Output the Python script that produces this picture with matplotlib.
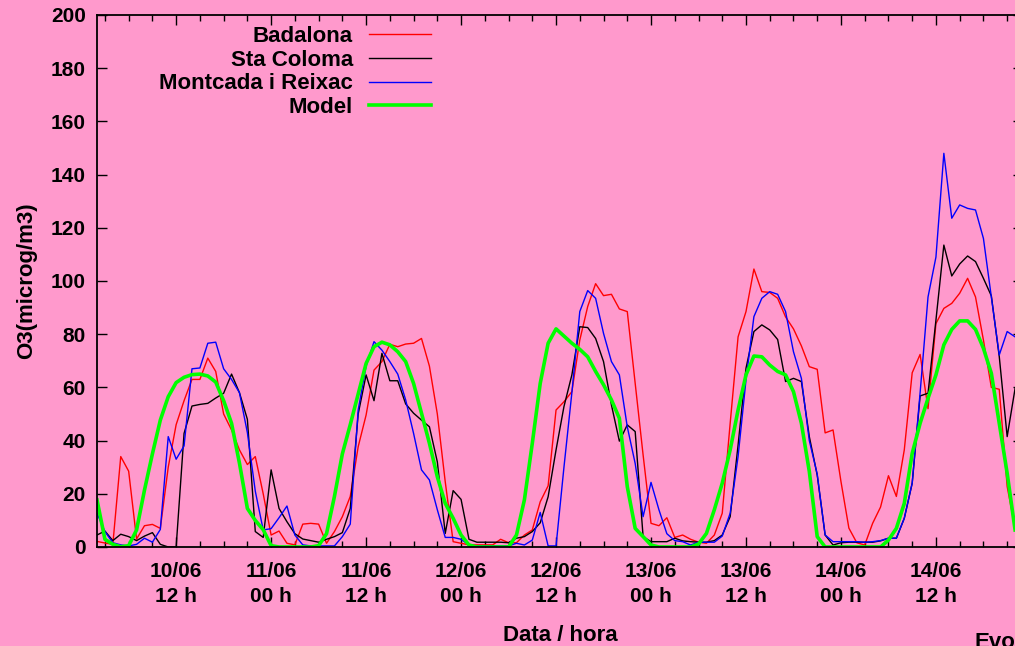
import numpy as np
import matplotlib
matplotlib.use("Agg")
import matplotlib.pyplot as plt
from matplotlib.ticker import MultipleLocator, FixedLocator

# hourly O3 values, hours counted from 10/06 00h
hours = np.arange(2, 119)

badalona = [
    2.1, 1.5, 1.0, 34, 28.5, 3, 8, 8.5, 7, 30,
    46, 55, 63, 63, 71, 66, 50, 44, 36.5, 31,
    34, 20, 4.5, 6, 1.4, 0.8, 8.6, 8.9, 8.6, 1.4,
    5.8, 11.4, 19, 37.7, 49.6, 66.5, 69.7, 76.2, 75.3, 76.3,
    76.6, 78.4, 68, 50, 24.5, 2, 1.4, 0.8, 0.8, 0.8,
    0.8, 2.9, 1.6, 1.6, 4.5, 6.4, 17, 23, 51.5, 54.6,
    58.4, 77.8, 90.4, 99, 94.5, 95, 89.5, 88.5, 61.5, 34.6,
    8.9, 8, 11, 3.6, 4.5, 2.9, 1.8, 1.4, 4.5, 12.7,
    46.5, 79, 88.5, 104.5, 96, 95.7, 93.5, 86.5, 82, 75.6,
    67.8, 66.8, 42.9, 44, 24.6, 7.1, 1.6, 0.75, 8.9, 15,
    26.8, 19, 36.5, 65.5, 72.4, 52, 84, 89.7, 91.6, 95.4,
    101, 94, 77.8, 60, 59.3, 22.7, 7,
]
sta_coloma = [
    4.5, 6, 2.4, 4.8, 3.9, 2.4, 4.1, 5.4, 1.0, 0,
    0, 42.7, 53, 53.6, 54, 56, 57.8, 65, 58, 48,
    5.8, 3.6, 29, 14.5, 9.5, 5, 3, 2.4, 1.8, 2.9,
    3.9, 5.4, 14.5, 50, 64.7, 55, 72.8, 62.5, 62.5, 53.8,
    50.3, 47.7, 45.2, 32, 5.1, 21.2, 17.9, 2.9, 1.8, 1.8,
    1.8, 1.8, 1.6, 3.3, 3.9, 5.8, 9.1, 18.9, 36.5, 52.8,
    64.7, 82.8, 82.5, 78.4, 69.7, 53.4, 39.8, 45.9, 43.4, 3.9,
    2, 2, 2, 3.3, 2.3, 2, 1.8, 1.8, 2.4, 4.5,
    11.4, 38.3, 67.2, 81, 83.5, 81.6, 78, 62.2, 63.4, 62.2,
    41.5, 27, 4.5, 0.75, 1.6, 1.8, 1.8, 1.8, 1.8, 2.3,
    3.3, 3.3, 10.8, 24, 56.8, 57.8, 85.3, 113.5, 101.9, 106.4,
    109.4, 107.3, 101, 94.4, 71.6, 41.5, 59.6,
]
montcada = [
    12.7, 5.8, 1.6, 0.8, 0.4, 1, 3.3, 1.8, 6.6, 41.5,
    33, 38, 67, 67.3, 76.6, 77, 67, 63, 58, 43,
    21, 6.4, 6.9, 11, 15.4, 4.5, 0.8, 0.4, 0.4, 0.4,
    0.4, 3.9, 8.6, 51.5, 68, 77.2, 74, 69.7, 65, 55.3,
    42.7, 29, 25.2, 14, 3.6, 3.6, 2.9, 0.75, 0.4, 0.4,
    0.4, 0.4, 0.4, 1.4, 0.75, 2.6, 13, 0.4, 0.4, 30,
    58, 88.5, 96.4, 93.5, 80.3, 69.7, 64.7, 45.2, 31.4, 11.4,
    24.3, 14, 5, 2.4, 2, 0.75, 1.8, 1.8, 1.8, 4.1,
    12.7, 34, 62.8, 86.6, 93.5, 96, 95, 88.5, 73.4, 63.4,
    40, 27.4, 4.5, 2, 2, 2, 2, 1.8, 2, 2.4,
    3.3, 3.3, 10.8, 24, 58, 94, 109, 148, 123.6, 128.6,
    127.3, 126.7, 116, 94, 72.2, 81, 79,
]
model = [
    17.7, 2.9, 1, 0.1, 0.5, 6.4, 21.4, 35, 47.7, 56.5,
    61.8, 63.8, 64.8, 65, 64.3, 62, 55, 46.5, 31.5, 14.5,
    10, 6.5, 0.5, 0, 0, 0, 0, 0, 0.5, 5,
    19, 35, 46, 57.5, 69, 75.3, 77, 76, 73.4, 69.7,
    61.5, 50.3, 39, 26.4, 16.4, 10.8, 4.5, 0.75, 0, 0,
    0, 0, 0, 4.5, 17.7, 39, 61.5, 76.6, 82, 79.3,
    76.6, 74.3, 71.5, 66, 61, 55.3, 48.4, 22.7, 7, 3.9,
    0.75, 0, 0, 0, 0, 0, 1.1, 5.1, 14, 24,
    36.5, 51.5, 64.7, 71.8, 71.5, 68.4, 66, 64.7, 58.4, 46.5,
    28.4, 3.9, 0, 0, 0, 0, 0, 0, 0, 0,
    2.6, 7, 16.4, 35.2, 46.5, 55.9, 64.7, 76, 81.8, 85,
    85, 81.8, 74.7, 65.3, 46.5, 27.7, 6.4,
]

tick_hours = [12, 24, 36, 48, 60, 72, 84, 96, 108]
tick_labels = ["10/06\n12 h", "11/06\n00 h", "11/06\n12 h", "12/06\n00 h",
               "12/06\n12 h", "13/06\n00 h", "13/06\n12 h", "14/06\n00 h",
               "14/06\n12 h"]

bg = "#ff99cc"
plt.rcParams["font.family"] = ["Liberation Sans", "DejaVu Sans"]
plt.rcParams["font.weight"] = "bold"

fig = plt.figure(figsize=(10.15, 6.46), dpi=100, facecolor=bg)
ax = fig.add_axes([97 / 1015, 99 / 646, (1023 - 97) / 1015, 532 / 646])
ax.set_facecolor(bg)

ax.plot(hours, badalona, color="#ff0000", lw=1.0, label="Badalona")
ax.plot(hours, sta_coloma, color="#000000", lw=1.0, label="Sta Coloma")
ax.plot(hours, montcada, color="#0000ff", lw=1.0, label="Montcada i Reixac")
ax.plot(hours, model, color="#00ff00", lw=2.6, label="Model")

ax.set_xlim(2, 119)
ax.set_ylim(0, 200)
ax.yaxis.set_major_locator(MultipleLocator(20))
ax.xaxis.set_major_locator(FixedLocator(tick_hours))
ax.xaxis.set_minor_locator(MultipleLocator(3))
ax.set_xticklabels(tick_labels, linespacing=1.35)

ax.tick_params(which="both", direction="in", top=True, right=True,
               labelsize=15, width=1)
ax.tick_params(which="major", length=7)
ax.tick_params(which="minor", length=4)
ax.tick_params(axis="x", pad=11)
ax.tick_params(axis="y", pad=8)
for s in ax.spines.values():
    s.set_linewidth(1.3)

ax.set_xlabel("Data / hora", fontsize=16, fontweight="bold", labelpad=14)
ax.set_ylabel("O3(microg/m3)", fontsize=16, fontweight="bold", labelpad=10)

ax.legend(loc="upper right", bbox_to_anchor=(442 / 1015, 1 - 15 / 646),
          bbox_transform=fig.transFigure, markerfirst=False, frameon=False,
          fontsize=16, handlelength=2.8, handletextpad=0.7, borderpad=0,
          labelspacing=0.12)

fig.text(975 / 1015, 1 - 632 / 646, "Evolució", fontsize=16,
         fontweight="bold", ha="left", va="top")

fig.savefig("out.png", dpi=100, facecolor=bg)
